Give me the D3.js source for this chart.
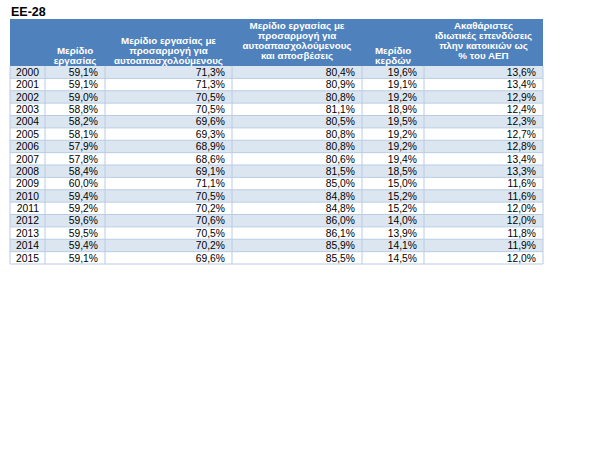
<!DOCTYPE html>
<html lang="el">
<head>
<meta charset="UTF-8" />
<title>EE-28</title>
<script src="https://cdn.jsdelivr.net/npm/d3@7"></script>
<style>
  body { margin: 0; background: #fff; }
  text { font-family: "Liberation Sans", Arial, sans-serif; }
</style>
</head>
<body>
<script>
  const years = [2000, 2001, 2002, 2003, 2004, 2005, 2006, 2007,
                 2008, 2009, 2010, 2011, 2012, 2013, 2014, 2015];
  const laborShare = [59.1, 59.1, 59.0, 58.8, 58.2, 58.1, 57.9, 57.8,
                      58.4, 60.0, 59.4, 59.2, 59.6, 59.5, 59.4, 59.1];
  const laborShareAdj = [71.3, 71.3, 70.5, 70.5, 69.6, 69.3, 68.9, 68.6,
                         69.1, 71.1, 70.5, 70.2, 70.6, 70.5, 70.2, 69.6];
  const laborShareAdjDep = [80.4, 80.9, 80.8, 81.1, 80.5, 80.8, 80.8, 80.6,
                            81.5, 85.0, 84.8, 84.8, 86.0, 86.1, 85.9, 85.5];
  const profitShare = [19.6, 19.1, 19.2, 18.9, 19.5, 19.2, 19.2, 19.4,
                       18.5, 15.0, 15.2, 15.2, 14.0, 13.9, 14.1, 14.5];
  const investment = [13.6, 13.4, 12.9, 12.4, 12.3, 12.7, 12.8, 13.4,
                      13.3, 11.6, 11.6, 12.0, 12.0, 11.8, 11.9, 12.0];

  const headers = [
    [],
    ["Μερίδιο", "εργασίας"],
    ["Μερίδιο εργασίας με", "προσαρμογή για", "αυτοαπασχολούμενους"],
    ["Μερίδιο εργασίας με", "προσαρμογή για", "αυτοαπασχολούμενους", "και αποσβέσεις"],
    ["Μερίδιο", "κερδών"],
    ["Ακαθάριστες", "ιδιωτικές επενδύσεις", "πλην κατοικιών ως", "% του ΑΕΠ"]
  ];
  const series = [laborShare, laborShareAdj, laborShareAdjDep, profitShare, investment];

  const W = 614, H = 460;
  const colEdges = [10, 45, 105, 232, 362, 424, 543];
  const headTop = 19, headBottom = 66, tableBottom = 264;

  const svg = d3.select("body").append("svg")
    .attr("width", W)
    .attr("height", H);

  const y = d3.scaleBand().domain(years).range([headBottom, tableBottom]);
  const cols = d3.range(colEdges.length - 1);
  const xL = d3.scaleOrdinal().domain(cols).range(colEdges.slice(0, -1));
  const xR = d3.scaleOrdinal().domain(cols).range(colEdges.slice(1));

  const fmt = v => d3.format(".1f")(v).replace(".", ",") + "%";

  svg.append("text")
    .attr("x", 11).attr("y", 16)
    .attr("font-size", 12.5).attr("font-weight", "bold")
    .text("EE-28");

  // header
  svg.append("rect")
    .attr("x", colEdges[0]).attr("y", headTop)
    .attr("width", colEdges[colEdges.length - 1] - colEdges[0])
    .attr("height", headBottom - headTop)
    .attr("fill", "#4F81BD");

  headers.forEach((lines, i) => {
    const cx = (xL(i) + xR(i)) / 2;
    // 4-line cells sit a bit higher
    const lastY = lines.length > 3 ? 58.5 : 63.5;
    svg.append("text")
      .attr("text-anchor", "middle")
      .attr("fill", "#fff")
      .attr("font-size", 9.8)
      .attr("font-weight", "bold")
      .selectAll("tspan")
      .data(lines)
      .join("tspan")
      .attr("x", cx)
      .attr("y", (d, k) => lastY - (lines.length - 1 - k) * 10)
      .text(d => d);
  });

  // rows
  const rows = svg.append("g").selectAll("g")
    .data(years)
    .join("g");

  rows.append("rect")
    .attr("x", colEdges[0])
    .attr("y", d => y(d))
    .attr("width", colEdges[colEdges.length - 1] - colEdges[0])
    .attr("height", y.bandwidth())
    .attr("fill", (d, i) => i % 2 === 0 ? "#DCE6F1" : "#fff");

  // grid lines
  svg.append("g").selectAll("line")
    .data(years.slice(1).concat("end"))
    .join("line")
    .attr("x1", colEdges[0]).attr("x2", colEdges[colEdges.length - 1])
    .attr("y1", d => d === "end" ? tableBottom : y(d))
    .attr("y2", d => d === "end" ? tableBottom : y(d))
    .attr("stroke", "#B8CCE4").attr("stroke-width", 1);

  svg.append("g").selectAll("line")
    .data(colEdges)
    .join("line")
    .attr("x1", d => d).attr("x2", d => d)
    .attr("y1", headBottom).attr("y2", tableBottom)
    .attr("stroke", "#B8CCE4").attr("stroke-width", 1);

  rows.append("text")
    .attr("x", xR(0) - 6)
    .attr("y", d => y(d) + y.bandwidth() / 2 + 3.7)
    .attr("text-anchor", "end")
    .attr("font-size", 10.3)
    .text(d => d);

  series.forEach((vals, s) => {
    rows.append("text")
      .attr("x", xR(s + 1) - 7)
      .attr("y", d => y(d) + y.bandwidth() / 2 + 3.7)
      .attr("text-anchor", "end")
      .attr("font-size", 10.3)
      .text((d, i) => fmt(vals[i]));
  });
</script>
</body>
</html>
